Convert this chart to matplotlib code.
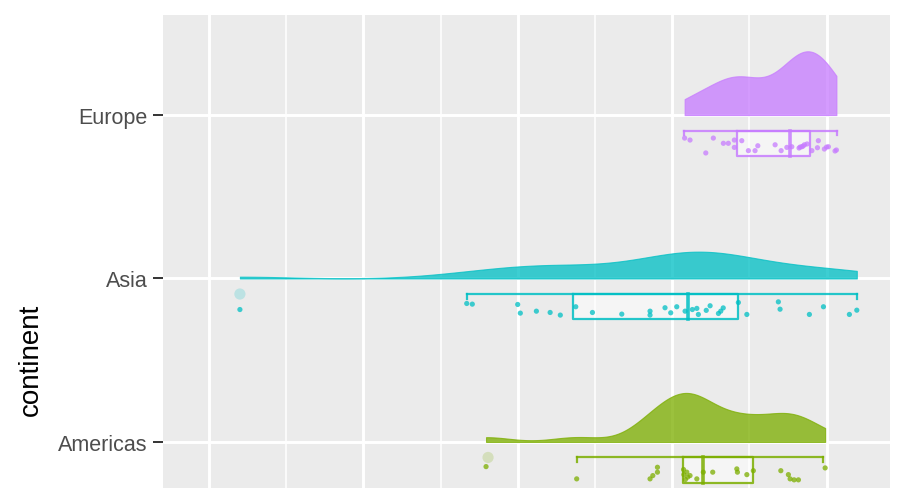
import numpy as np
import matplotlib
matplotlib.use("Agg")
import matplotlib.pyplot as plt

plt.rcParams['font.family'] = ['Liberation Sans', 'DejaVu Sans']

# categorias (de abajo hacia arriba)
continentes = ["Americas", "Asia", "Europe"]
colores = ["#7CAE00", "#00BFC4", "#C77CFF"]

# esperanza de vida por pais
vida_americas = [57.94, 63.81, 68.56, 68.74, 69.04, 69.04, 70.73, 70.75, 70.85, 70.94,
                 71.0, 71.59, 71.15, 72.01, 72.62, 74.18, 74.22, 74.83, 75.25, 77.03,
                 77.52, 77.63, 77.89, 78.17, 79.90]
jitter_americas = [0.151, 0.226, 0.226, 0.206, 0.155, 0.185, 0.169, 0.200, 0.230, 0.185,
                   0.215, 0.226, 0.206, 0.185, 0.185, 0.165, 0.185, 0.200, 0.176, 0.176,
                   0.200, 0.226, 0.232, 0.232, 0.159]

vida_asia = [42.0, 56.69, 57.05, 59.99, 60.16, 61.20, 62.09, 62.75, 63.75, 64.83,
             66.73, 68.56, 68.56, 69.53, 69.9, 70.29, 70.83, 71.3, 71.59, 71.69,
             72.2, 72.45, 72.99, 73.14, 73.3, 74.28, 74.83, 76.87, 76.98, 78.88,
             79.79, 81.47, 81.95]
jitter_asia = [0.190, 0.153, 0.157, 0.159, 0.212, 0.200, 0.208, 0.224, 0.173, 0.208,
               0.218, 0.200, 0.224, 0.179, 0.210, 0.173, 0.200, 0.190, 0.183, 0.220,
               0.195, 0.167, 0.214, 0.200, 0.180, 0.147, 0.220, 0.143, 0.188, 0.220,
               0.173, 0.220, 0.194]

vida_europe = [70.80, 71.15, 72.17, 72.66, 73.31, 73.63, 74.02, 74.02, 74.50, 74.93,
               75.36, 75.54, 76.66, 77.05, 77.42, 77.74, 78.21, 78.28, 78.39, 78.47,
               78.56, 78.73, 79.04, 79.4, 79.46, 79.85, 79.99, 80.11, 80.54, 80.63]
jitter_europe = [0.141, 0.153, 0.232, 0.141, 0.173, 0.173, 0.153, 0.198, 0.157, 0.218,
                 0.218, 0.188, 0.182, 0.218, 0.198, 0.194, 0.202, 0.196, 0.194, 0.190,
                 0.182, 0.177, 0.218, 0.200, 0.157, 0.208, 0.196, 0.194, 0.220, 0.214]

# resumen del boxplot: bigote inf, Q1, mediana, Q3, bigote sup
cajas = [
    [63.81, 70.72, 72.01, 75.25, 79.79],   # Americas
    [56.69, 63.60, 71.04, 74.28, 81.99],   # Asia
    [70.77, 74.18, 77.65, 78.93, 80.65],   # Europe
]
atipicos = [[58.07], [42.0], []]

datos = [vida_americas, vida_asia, vida_europe]
jitters = [jitter_americas, jitter_asia, jitter_europe]


def densidad(valores, n=300):
    v = np.asarray(valores)
    # ancho de banda nrd0 (como R), recortada al rango de los datos
    iqr = np.subtract(*np.percentile(v, [75, 25]))
    bw = 0.9 * min(v.std(ddof=1), iqr / 1.34) * len(v) ** -0.2
    xs = np.linspace(v.min(), v.max(), n)
    d = np.exp(-0.5 * ((xs[:, None] - v[None, :]) / bw) ** 2).sum(axis=1)
    d = d / (len(v) * bw * np.sqrt(2 * np.pi))
    return xs, d


fig = plt.figure(figsize=(9.16, 4.89), dpi=100)
ax = fig.add_axes([163 / 916, 1 - 541 / 489, 727 / 916, 525 / 489])
ax.set_facecolor("#EBEBEB")
for s in ax.spines.values():
    s.set_visible(False)

ax.set_xlim(37.02, 84.1)
ax.set_ylim(0.4, 3.612)

# rejilla
for x in [45, 55, 65, 75]:
    ax.axvline(x, color="white", lw=1.1, zorder=0)
for x in [40, 50, 60, 70, 80]:
    ax.axvline(x, color="white", lw=2.1, zorder=0)
for y in [1, 2, 3]:
    ax.axhline(y, color="white", lw=2.1, zorder=0)

curvas = [densidad(v) for v in datos]
escala = 0.39 / max(d.max() for _, d in curvas)

for i, (nombre, col) in enumerate(zip(continentes, colores)):
    y0 = i + 1
    xs, d = curvas[i]
    ax.fill_between(xs, y0, y0 + d * escala, color=col, alpha=0.76, lw=0.8,
                    edgecolor=col, zorder=2)

    wmin, q1, med, q3, wmax = cajas[i]
    top, bot = y0 - 0.095, y0 - 0.25
    ax.fill_between([q1, q3], bot, top, color="white", alpha=0.5, lw=0, zorder=3)
    ax.plot([q1, q3, q3, q1, q1], [top, top, bot, bot, top], color=col, lw=1.6,
            alpha=0.85, zorder=4)
    ax.plot([med, med], [top, bot], color=col, lw=2.6, alpha=0.85, zorder=4)
    ax.plot([wmin, wmax], [top, top], color=col, lw=1.6, alpha=0.85, zorder=4)
    ax.plot([wmin, wmin], [top, top - 0.03], color=col, lw=1.6, alpha=0.85, zorder=4)
    ax.plot([wmax, wmax], [top, top - 0.03], color=col, lw=1.6, alpha=0.85, zorder=4)

    ax.scatter(atipicos[i], [top] * len(atipicos[i]), s=65, color=col, alpha=0.2,
               edgecolors="none", zorder=5)
    ys = [y0 - j for j in jitters[i]]
    ax.scatter(datos[i], ys, s=14, color=col, alpha=0.75, edgecolors="none", zorder=5)

ax.set_yticks([1, 2, 3])
ax.set_yticklabels(continentes)
ax.tick_params(axis="y", length=7, width=1.4, color="#333333", pad=4,
               labelsize=15.5, labelcolor="#4D4D4D")
ax.set_xticks([])

fig.text(31 / 916, 1 - 360 / 489, "continent", rotation=90, ha="center", va="center",
         fontsize=20, color="black")

plt.savefig("out.png", dpi=100)
